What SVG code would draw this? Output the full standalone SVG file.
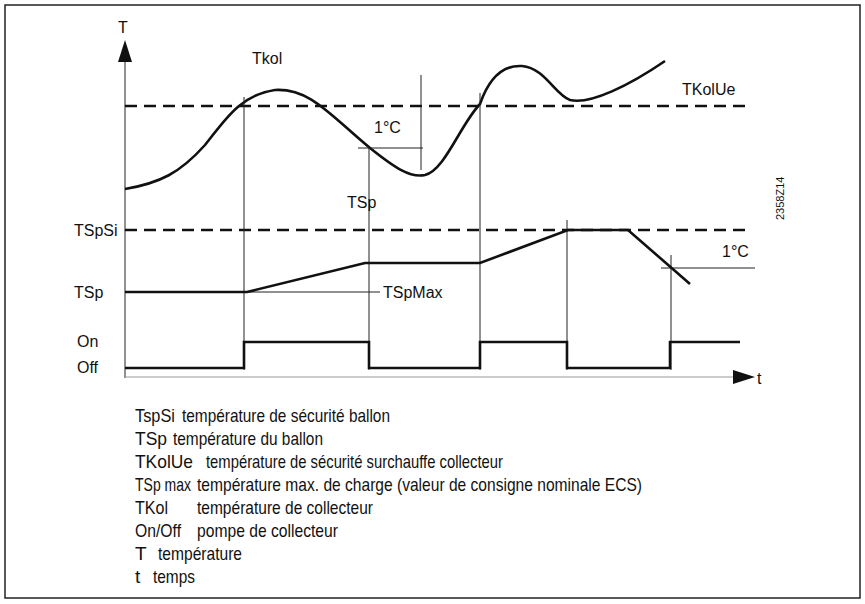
<svg xmlns="http://www.w3.org/2000/svg" width="865" height="604" viewBox="0 0 865 604">
<style>
text{font-family:"Liberation Sans",Arial,sans-serif;fill:#111}
.l{font-size:16px}
.g{font-size:19px}
.thin{stroke:#222;stroke-width:1;fill:none}
.thick{stroke:#111;stroke-width:2.6;fill:none}
.dash{stroke:#111;stroke-width:2.6;stroke-dasharray:12,7;fill:none}
</style>
<rect x="5" y="5" width="855" height="593" fill="#fff" stroke="#222" stroke-width="1.5"/>
<g id="connectors">
<line class="thin" x1="125" y1="60" x2="125" y2="378"/>
<polygon points="125,40 118,62 132,62" fill="#111"/>
<line x1="125" y1="377" x2="740" y2="377" stroke="#999" stroke-width="1.2"/>
<polygon points="755,377 733,370 733,384" fill="#111"/>
<line class="dash" x1="125" y1="106" x2="752" y2="106"/>
<line class="dash" x1="125" y1="230" x2="752" y2="230"/>
<path class="thick" d="M125,189 C160,183 180,173 205,145 C225,120 240,95 275,90 C310,88 330,115 370,148 C395,168 410,178 425,175 C445,170 460,125 480,104 C490,75 505,65 522,66 C545,68 555,95 570,100 C590,105 630,85 665,61"/>
<line class="thin" x1="244" y1="97" x2="244" y2="370"/>
<line class="thin" x1="369" y1="148" x2="369" y2="370"/>
<line class="thin" x1="421" y1="75" x2="421" y2="170"/>
<line class="thin" x1="358" y1="148" x2="423" y2="148"/>
<line class="thin" x1="480" y1="93" x2="480" y2="370"/>
<line class="thin" x1="567" y1="220" x2="567" y2="370"/>
<line class="thin" x1="671" y1="255" x2="671" y2="370"/>
<line class="thin" x1="661" y1="268" x2="755" y2="268"/>
<line class="thin" x1="247" y1="292" x2="380" y2="292"/>
<path class="thick" d="M125,292 H247 L365,263 H480 L568,230 H628 L690,284"/>
<path class="thick" d="M125,368 H244 V342 H369 V368 H480 V342 H567 V368 H670 V342 H740"/>
</g>
<g id="labels">
<text class="l" x="118" y="33">T</text>
<text class="l" x="252" y="64">Tkol</text>
<text class="l" x="374" y="133">1°C</text>
<text class="l" x="347" y="208">TSp</text>
<text class="l" x="682" y="95">TKolUe</text>
<text x="784" y="220" font-size="11" transform="rotate(-90 784 220)">2358Z14</text>
<text class="l" x="74" y="236">TSpSi</text>
<text class="l" x="74" y="298">TSp</text>
<text class="l" x="383" y="298">TSpMax</text>
<text class="l" x="722" y="257">1°C</text>
<text class="l" x="77" y="347">On</text>
<text class="l" x="77" y="373">Off</text>
<text class="l" x="757" y="384">t</text>
</g>
<g id="legend">
<text class="g" x="135" y="422" textLength="40" lengthAdjust="spacingAndGlyphs">TspSi</text><text class="g" x="182" y="422" textLength="208" lengthAdjust="spacingAndGlyphs">température de sécurité ballon</text>
<text class="g" x="135" y="445" textLength="32" lengthAdjust="spacingAndGlyphs">TSp</text><text class="g" x="173" y="445" textLength="150" lengthAdjust="spacingAndGlyphs">température du ballon</text>
<text class="g" x="135" y="468" textLength="58" lengthAdjust="spacingAndGlyphs">TKolUe</text><text class="g" x="206" y="468" textLength="297" lengthAdjust="spacingAndGlyphs">température de sécurité surchauffe collecteur</text>
<text class="g" x="135" y="491" textLength="56" lengthAdjust="spacingAndGlyphs">TSp max</text><text class="g" x="197" y="491" textLength="445" lengthAdjust="spacingAndGlyphs">température max. de charge (valeur de consigne nominale ECS)</text>
<text class="g" x="135" y="514" textLength="33" lengthAdjust="spacingAndGlyphs">TKol</text><text class="g" x="197" y="514" textLength="176" lengthAdjust="spacingAndGlyphs">température de collecteur</text>
<text class="g" x="135" y="537" textLength="46" lengthAdjust="spacingAndGlyphs">On/Off</text><text class="g" x="197" y="537" textLength="141" lengthAdjust="spacingAndGlyphs">pompe de collecteur</text>
<text class="g" x="135" y="560">T</text><text class="g" x="158" y="560" textLength="84" lengthAdjust="spacingAndGlyphs">température</text>
<text class="g" x="135" y="583">t</text><text class="g" x="153" y="583" textLength="42" lengthAdjust="spacingAndGlyphs">temps</text>
</g>
</svg>
